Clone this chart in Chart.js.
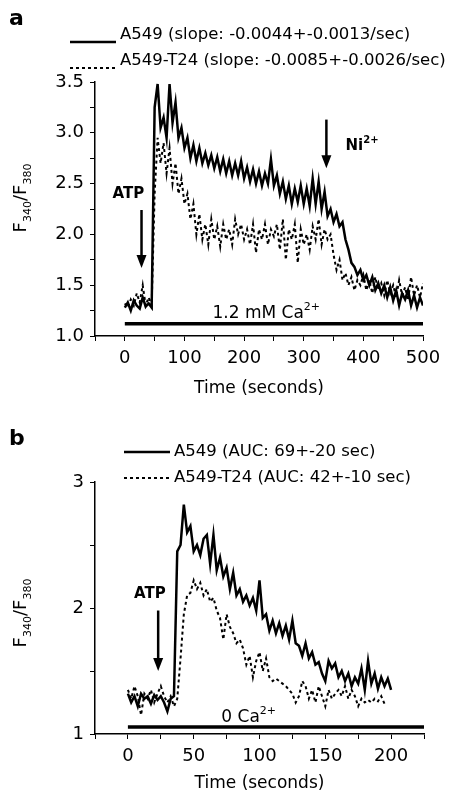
<!DOCTYPE html>
<html>
<head>
<meta charset="UTF-8">
<title>ATP response A549 / A549-T24</title>
<script src="https://cdn.jsdelivr.net/npm/chart.js"></script>
<style>
    body { margin: 0; background: #fff; }
    canvas { position: absolute; left: 0; }
</style>
</head>
<body>
<canvas id="chartA" width="449" height="400" style="top:0px"></canvas>
<canvas id="chartB" width="449" height="395" style="top:400px"></canvas>
<script>
var FONT = '"DejaVu Sans", sans-serif';

// ---- panel a : 1.2 mM Ca2+ ----
var timeA = [0, 5, 10, 15, 20, 25, 30, 35, 40, 45,
    50, 55, 60, 65, 70, 75, 80, 85, 90, 95,
    100, 105, 110, 115, 120, 125, 130, 135, 140, 145,
    150, 155, 160, 165, 170, 175, 180, 185, 190, 195,
    200, 205, 210, 215, 220, 225, 230, 235, 240, 245,
    250, 255, 260, 265, 270, 275, 280, 285, 290, 295,
    300, 305, 310, 315, 320, 325, 330, 335, 340, 345,
    350, 355, 360, 365, 370, 375, 380, 385, 390, 395,
    400, 405, 410, 415, 420, 425, 430, 435, 440, 445,
    450, 455, 460, 465, 470, 475, 480, 485, 490, 495, 500];
var a549A = [1.28, 1.33, 1.25, 1.35, 1.30, 1.27, 1.38, 1.29, 1.32, 1.28,
    3.25, 3.48, 3.05, 3.15, 2.95, 3.48, 3.10, 3.30, 2.95, 3.05,
    2.85, 2.95, 2.75, 2.88, 2.72, 2.85, 2.70, 2.80, 2.68, 2.78,
    2.65, 2.76, 2.62, 2.74, 2.60, 2.72, 2.58, 2.70, 2.58, 2.72,
    2.55, 2.66, 2.52, 2.64, 2.50, 2.62, 2.48, 2.60, 2.50, 2.74,
    2.48, 2.58, 2.40, 2.52, 2.35, 2.48, 2.30, 2.45, 2.32, 2.48,
    2.30, 2.45, 2.28, 2.55, 2.30, 2.52, 2.25, 2.42, 2.18, 2.25,
    2.12, 2.20, 2.08, 2.12, 1.95, 1.85, 1.72, 1.68, 1.60, 1.65,
    1.55, 1.60, 1.50, 1.58, 1.45, 1.52, 1.42, 1.50, 1.38, 1.48,
    1.35, 1.45, 1.30, 1.42, 1.36, 1.45, 1.30, 1.40, 1.28, 1.38, 1.30];
var t24A = [1.32, 1.28, 1.36, 1.30, 1.42, 1.33, 1.50, 1.30, 1.38, 1.30,
    2.40, 2.95, 2.70, 2.90, 2.60, 2.85, 2.50, 2.70, 2.40, 2.55,
    2.30, 2.40, 2.15, 2.30, 2.00, 2.20, 1.95, 2.10, 1.90, 2.15,
    1.95, 2.08, 1.88, 2.10, 1.95, 2.05, 1.90, 2.15, 2.00, 2.10,
    1.95, 2.05, 1.90, 2.10, 1.82, 2.05, 1.95, 2.10, 1.90, 2.05,
    1.98, 2.10, 1.85, 2.15, 1.75, 2.05, 1.95, 2.10, 1.72, 2.05,
    1.90, 2.00, 1.85, 2.08, 1.95, 2.15, 1.90, 2.05, 1.95, 2.00,
    1.80, 1.65, 1.75, 1.55, 1.62, 1.50, 1.58, 1.45, 1.55, 1.50,
    1.60, 1.45, 1.55, 1.42, 1.58, 1.45, 1.52, 1.40, 1.55, 1.42,
    1.50, 1.38, 1.55, 1.40, 1.48, 1.35, 1.58, 1.40, 1.50, 1.38, 1.52];
var caBarTimeA = [0, 500];
var caLevelA = 1.12;
var labelsA = ['A549 (slope: -0.0044+-0.0013/sec)', 'A549-T24 (slope: -0.0085+-0.0026/sec)'];

// ---- panel b : 0 Ca2+ ----
var timeB = [0, 2.5, 5, 7.5, 10, 12.5, 15, 17.5, 20, 22.5,
    25, 27.5, 30, 32.5, 35, 37.5, 40, 42.5, 45, 47.5,
    50, 52.5, 55, 57.5, 60, 62.5, 65, 67.5, 70, 72.5,
    75, 77.5, 80, 82.5, 85, 87.5, 90, 92.5, 95, 97.5,
    100, 102.5, 105, 107.5, 110, 112.5, 115, 117.5, 120, 122.5,
    125, 127.5, 130, 132.5, 135, 137.5, 140, 142.5, 145, 147.5,
    150, 152.5, 155, 157.5, 160, 162.5, 165, 167.5, 170, 172.5,
    175, 177.5, 180, 182.5, 185, 187.5, 190, 192.5, 195, 197.5, 200];
var a549B = [1.32, 1.25, 1.30, 1.22, 1.32, 1.28, 1.30, 1.24, 1.31, 1.27,
    1.30, 1.25, 1.18, 1.28, 1.30, 2.45, 2.50, 2.82, 2.60, 2.65,
    2.45, 2.50, 2.42, 2.55, 2.58, 2.35, 2.58, 2.30, 2.40, 2.25,
    2.32, 2.15, 2.28, 2.10, 2.15, 2.05, 2.10, 2.02, 2.08, 1.98,
    2.22, 1.92, 1.95, 1.82, 1.90, 1.80, 1.88, 1.78, 1.86, 1.75,
    1.90, 1.72, 1.70, 1.62, 1.72, 1.60, 1.65, 1.55, 1.57, 1.48,
    1.42, 1.58, 1.52, 1.56, 1.45, 1.50, 1.42, 1.48, 1.38, 1.45,
    1.40, 1.52, 1.35, 1.58, 1.40, 1.48, 1.36, 1.45, 1.38, 1.44, 1.35];
var t24B = [1.35, 1.28, 1.38, 1.30, 1.15, 1.32, 1.28, 1.35, 1.25, 1.32,
    1.38, 1.30, 1.25, 1.30, 1.22, 1.28, 1.60, 1.95, 2.10, 2.12,
    2.22, 2.15, 2.20, 2.10, 2.15, 2.05, 2.08, 1.98, 1.92, 1.75,
    1.95, 1.85, 1.80, 1.72, 1.75, 1.68, 1.55, 1.62, 1.45, 1.58,
    1.65, 1.50, 1.60, 1.45, 1.42, 1.44, 1.42, 1.40, 1.38, 1.35,
    1.32, 1.25, 1.30, 1.42, 1.38, 1.28, 1.35, 1.25, 1.38, 1.30,
    1.22, 1.35, 1.28, 1.32, 1.35, 1.30, 1.38, 1.28, 1.35, 1.30,
    1.22, 1.28, 1.25, 1.27, 1.25, 1.28, 1.26, 1.30, 1.24, null, null];
var caBarTimeB = [0, 225];
var caLevelB = 1.055;
var labelsB = ['A549 (AUC: 69+-20 sec)', 'A549-T24 (AUC: 42+-10 sec)'];

function pairs(xs, ys) {
    return xs.map(function (x, i) { return { x: x, y: ys[i] }; });
}

// text with an optional superscript / subscript part
function drawParts(ctx, parts, x, y) {
    parts.forEach(function (p) {
        ctx.font = (p.bold ? 'bold ' : '') + p.size + 'px ' + FONT;
        ctx.fillText(p.text, x, y + (p.dy || 0));
        x += ctx.measureText(p.text).width;
    });
}
function partsWidth(ctx, parts) {
    var w = 0;
    parts.forEach(function (p) {
        ctx.font = (p.bold ? 'bold ' : '') + p.size + 'px ' + FONT;
        w += ctx.measureText(p.text).width;
    });
    return w;
}

var notesPlugin = {
    id: 'notes',
    afterDraw: function (chart, args, opt) {
        var ctx = chart.ctx;
        var xs = chart.scales.x, ys = chart.scales.y;
        ctx.save();
        ctx.fillStyle = '#000';
        ctx.strokeStyle = '#000';
        ctx.textBaseline = 'alphabetic';

        // panel letter
        ctx.textAlign = 'left';
        ctx.font = 'bold 22px ' + FONT;
        ctx.fillText(opt.letter, 9, opt.letterY);

        // legend
        var lg = opt.legend;
        chart.data.datasets.forEach(function (ds, i) {
            if (!ds.label) return;
            var y = lg.y + i * lg.gap;
            ctx.beginPath();
            ctx.setLineDash(ds.borderDash || []);
            ctx.lineWidth = ds.borderWidth;
            ctx.moveTo(lg.x, y + lg.lineDy);
            ctx.lineTo(lg.x + lg.len, y + lg.lineDy);
            ctx.stroke();
            ctx.setLineDash([]);
            ctx.font = lg.size + 'px ' + FONT;
            ctx.textBaseline = 'middle';
            ctx.fillText(ds.label, lg.x + lg.len + 4, y);
            ctx.textBaseline = 'alphabetic';
        });

        // y title F340/F380
        var yt = [
            { text: 'F', size: 18 }, { text: '340', size: 11, dy: 5 },
            { text: '/F', size: 18 }, { text: '380', size: 11, dy: 5 }
        ];
        ctx.save();
        ctx.translate(opt.yTitle.x, opt.yTitle.y);
        ctx.rotate(-Math.PI / 2);
        drawParts(ctx, yt, -partsWidth(ctx, yt) / 2, 0);
        ctx.restore();

        // arrows
        opt.arrows.forEach(function (a) {
            var x = xs.getPixelForValue(a.t);
            var y0 = ys.getPixelForValue(a.from), y1 = ys.getPixelForValue(a.to);
            ctx.beginPath();
            ctx.lineWidth = 2.5;
            ctx.moveTo(x, y0);
            ctx.lineTo(x, y1 - 10);
            ctx.stroke();
            ctx.beginPath();
            ctx.moveTo(x - 5, y1 - 13);
            ctx.lineTo(x + 5, y1 - 13);
            ctx.lineTo(x, y1);
            ctx.closePath();
            ctx.fill();
        });

        // text notes
        opt.labels.forEach(function (l) {
            var x = xs.getPixelForValue(l.t), y = ys.getPixelForValue(l.v);
            var parts = [{ text: l.text, size: l.size, bold: l.bold }];
            if (l.sup) parts.push({ text: l.sup, size: Math.round(l.size * 0.65), bold: l.bold, dy: -l.size * 0.45 });
            if (l.center) x -= partsWidth(ctx, parts) / 2;
            drawParts(ctx, parts, x, y);
        });
        ctx.restore();
    }
};

function makeChart(id, o) {
    return new Chart(document.getElementById(id), {
        type: 'line',
        data: {
            datasets: [
                {
                    label: o.labels[0],
                    data: pairs(o.time, o.solid),
                    borderColor: '#000',
                    borderWidth: 2.5,
                    pointRadius: 0,
                    tension: 0
                },
                {
                    label: o.labels[1],
                    data: pairs(o.time, o.dashed),
                    borderColor: '#000',
                    borderWidth: 2,
                    borderDash: [3, 3],
                    pointRadius: 0,
                    tension: 0,
                    spanGaps: false
                },
                {
                    label: '',
                    data: pairs(o.barTime, [o.barLevel, o.barLevel]),
                    borderColor: '#000',
                    borderWidth: 3.5,
                    pointRadius: 0
                }
            ]
        },
        plugins: [notesPlugin],
        options: {
            responsive: false,
            animation: false,
            layout: { padding: { top: 82, right: o.padRight, left: 0, bottom: 0 } },
            plugins: {
                legend: { display: false },
                tooltip: { enabled: false },
                notes: o.notes
            },
            scales: {
                x: {
                    type: 'linear',
                    min: o.xMin,
                    max: o.xMax,
                    afterFit: function (s) { s.height = o.xHeight; },
                    border: { display: true, color: '#000', width: 1.5 },
                    grid: { drawOnChartArea: false, drawTicks: true, tickLength: 5, color: '#000' },
                    ticks: {
                        stepSize: o.xStep,
                        autoSkip: false,
                        maxRotation: 0,
                        padding: 7,
                        color: '#000',
                        font: { family: FONT, size: 18 },
                        callback: function (v) { return (v >= 0 && v % o.xLabelStep === 0) ? String(v) : ''; }
                    },
                    title: {
                        display: true,
                        text: 'Time (seconds)',
                        color: '#000',
                        font: { family: FONT, size: 17 },
                        padding: { top: 0, bottom: 1 }
                    }
                },
                y: {
                    min: o.yMin,
                    max: o.yMax,
                    afterFit: function (s) { s.width = 95; },
                    border: { display: true, color: '#000', width: 1.5 },
                    grid: { drawOnChartArea: false, drawTicks: true, tickLength: 5, color: '#000' },
                    ticks: {
                        stepSize: o.yStep,
                        autoSkip: false,
                        padding: 6,
                        color: '#000',
                        font: { family: FONT, size: 18 },
                        callback: o.yFormat
                    }
                }
            }
        }
    });
}

makeChart('chartA', {
    time: timeA, solid: a549A, dashed: t24A, labels: labelsA,
    barTime: caBarTimeA, barLevel: caLevelA,
    xMin: -50, xMax: 500, xStep: 50, xLabelStep: 100, xHeight: 64,
    yMin: 1, yMax: 3.5, yStep: 0.25, padRight: 26,
    yFormat: function (v) { return (Math.abs(v * 2 - Math.round(v * 2)) < 1e-6) ? v.toFixed(1) : ''; },
    notes: {
        letter: 'a', letterY: 25,
        legend: { x: 70, y: 35, gap: 26, len: 46, lineDy: 7, size: 16.5 },
        yTitle: { x: 26, y: 198 },
        arrows: [{ t: 28, from: 2.24, to: 1.67 }, { t: 338, from: 3.13, to: 2.65 }],
        labels: [
            { text: 'ATP', t: 6, v: 2.36, size: 15, bold: true, center: true },
            { text: 'Ni', sup: '2+', t: 370, v: 2.83, size: 15, bold: true },
            { text: '1.2 mM Ca', sup: '2+', t: 147, v: 1.18, size: 17 }
        ]
    }
});

makeChart('chartB', {
    time: timeB, solid: a549B, dashed: t24B, labels: labelsB,
    barTime: caBarTimeB, barLevel: caLevelB,
    xMin: -25, xMax: 225, xStep: 25, xLabelStep: 50, xHeight: 61,
    yMin: 1, yMax: 3, yStep: 0.5, padRight: 25,
    yFormat: function (v) { return Number.isInteger(v) ? String(v) : ''; },
    notes: {
        letter: 'b', letterY: 45,
        legend: { x: 124, y: 52, gap: 26, len: 46, lineDy: 0, size: 16.5 },
        yTitle: { x: 26, y: 213 },
        arrows: [{ t: 23, from: 1.98, to: 1.50 }],
        labels: [
            { text: 'ATP', t: 16.7, v: 2.08, size: 15, bold: true, center: true },
            { text: '0 Ca', sup: '2+', t: 71, v: 1.095, size: 17 }
        ]
    }
});
</script>
</body>
</html>
